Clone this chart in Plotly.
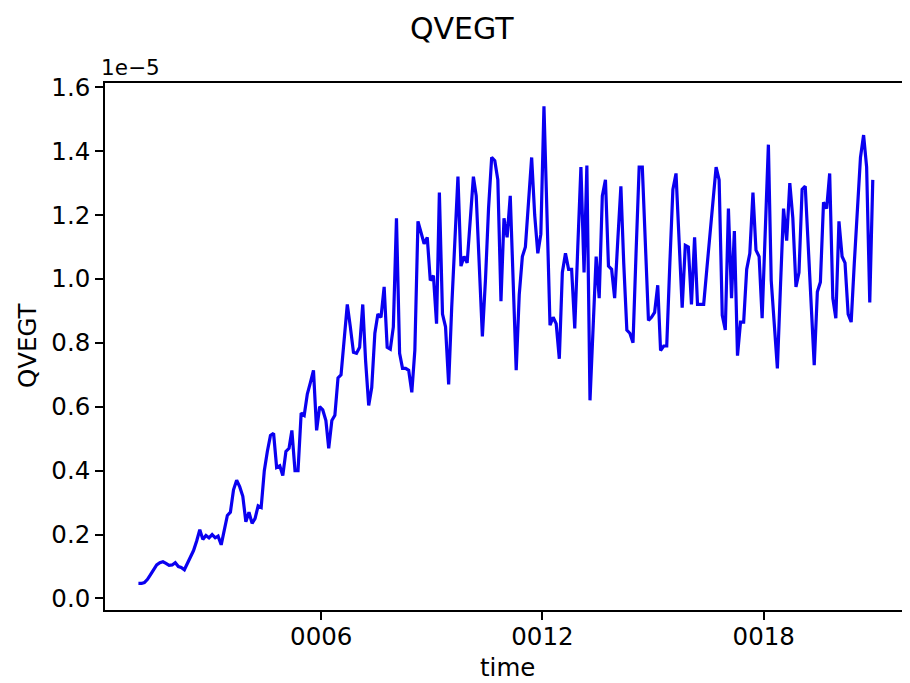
import plotly.graph_objects as go

# ---------------------------
# Data (QVEGT, in units of 1e-5), monthly from 0001-01 to 0020-12
# ---------------------------
START_YEAR = 1
N_YEARS = 20

qvegt_e5 = [
    0.047, 0.047, 0.050, 0.060, 0.075, 0.090, 0.105, 0.112, 0.115, 0.110,
    0.104, 0.105, 0.112, 0.100, 0.097, 0.090, 0.110, 0.130, 0.150, 0.180,
    0.215, 0.185, 0.197, 0.190, 0.200, 0.190, 0.195, 0.168, 0.210, 0.260,
    0.270, 0.340, 0.370, 0.350, 0.320, 0.240, 0.270, 0.235, 0.250, 0.290,
    0.285, 0.400, 0.460, 0.510, 0.517, 0.410, 0.415, 0.385, 0.460, 0.470,
    0.526, 0.400, 0.400, 0.580, 0.573, 0.640, 0.676, 0.714, 0.526, 0.600,
    0.590, 0.557, 0.470, 0.557, 0.573, 0.690, 0.700, 0.810, 0.920, 0.850,
    0.770, 0.767, 0.786, 0.920, 0.745, 0.604, 0.660, 0.830, 0.890, 0.880,
    0.975, 0.786, 0.780, 0.850, 1.190, 0.767, 0.720, 0.720, 0.714, 0.645,
    0.776, 1.180, 1.140, 1.110, 1.130, 0.995, 1.010, 0.860, 1.270, 0.890,
    0.850, 0.670, 0.910, 1.100, 1.320, 1.040, 1.070, 1.050, 1.180, 1.320,
    1.260, 1.050, 0.820, 1.000, 1.220, 1.380, 1.370, 1.310, 0.930, 1.190,
    1.130, 1.260, 0.990, 0.714, 0.950, 1.070, 1.100, 1.250, 1.380, 1.200,
    1.080, 1.140, 1.540, 1.190, 0.855, 0.880, 0.860, 0.750, 1.020, 1.080,
    1.030, 1.030, 0.845, 1.100, 1.350, 1.020, 1.355, 0.620, 0.850, 1.070,
    0.940, 1.260, 1.310, 1.040, 1.030, 0.940, 1.120, 1.290, 1.050, 0.840,
    0.830, 0.800, 1.080, 1.350, 1.350, 1.100, 0.870, 0.880, 0.895, 0.980,
    0.776, 0.790, 0.790, 1.050, 1.280, 1.330, 1.120, 0.910, 1.105, 1.100,
    0.920, 1.130, 0.920, 0.920, 0.920, 1.030, 1.130, 1.250, 1.350, 1.310,
    0.886, 0.840, 1.220, 0.940, 1.150, 0.760, 0.865, 0.865, 1.030, 1.080,
    1.270, 1.090, 1.070, 0.877, 1.150, 1.420, 0.995, 0.850, 0.720, 0.980,
    1.220, 1.120, 1.300, 1.190, 0.975, 1.020, 1.280, 1.290, 1.100, 0.920,
    0.730, 0.960, 0.990, 1.240, 1.220, 1.330, 0.940, 0.877, 1.180, 1.070,
    1.050, 0.890, 0.865, 1.050, 1.220, 1.380, 1.450, 1.350, 0.926, 1.310,
]

time = [f"{START_YEAR + y:04d}-{m:02d}-16"
        for y in range(N_YEARS) for m in range(1, 13)]

x_tick_vals = ["0006-01-01", "0012-01-01", "0018-01-01"]
x_tick_text = ["0006", "0012", "0018"]
y_tick_vals = [0.0, 0.2, 0.4, 0.6, 0.8, 1.0, 1.2, 1.4, 1.6]

# ---------------------------
# Style
# ---------------------------
FONT = "DejaVu Sans"
FS = 24.5
LINE_W = 1.6

fig = go.Figure(go.Scatter(
    x=time,
    y=qvegt_e5,
    mode="lines",
    line=dict(color="#0a00f0", width=3.2),
    showlegend=False,
))

axis_common = dict(
    showgrid=False,
    zeroline=False,
    showline=True,
    linecolor="black",
    linewidth=LINE_W,
    mirror=True,
    ticks="outside",
    ticklen=8,
    tickwidth=LINE_W,
    tickcolor="black",
    tickfont=dict(family=FONT, size=FS, color="black"),
)

# the page body adds 8px on the left and top, so the figure is 8px smaller
fig.update_layout(
    width=902,
    height=675,
    margin=dict(l=97, r=2, t=75, b=73),
    paper_bgcolor="white",
    plot_bgcolor="white",
    font=dict(family=FONT, size=FS, color="black"),
    title=dict(text="QVEGT", x=0.503, xanchor="center", y=0.970, yanchor="middle",
               font=dict(family=FONT, size=30, color="black")),
    xaxis=dict(
        **axis_common,
        type="date",
        range=["0000-02-20", "0021-11-10"],
        tickvals=x_tick_vals,
        ticktext=x_tick_text,
        ticklabelstandoff=-4,
    ),
    yaxis=dict(
        **axis_common,
        range=[-0.036, 1.613],
        tickvals=y_tick_vals,
        tickformat=".1f",
    ),
    annotations=[
        dict(text="1e\u22125", xref="paper", yref="paper", x=-0.008, y=1.030,
             xanchor="left", yanchor="middle", showarrow=False,
             font=dict(family=FONT, size=21.5, color="black")),
        dict(text="time", xref="paper", yref="paper", x=0.502, y=-0.110,
             xanchor="center", yanchor="middle", showarrow=False,
             font=dict(family=FONT, size=FS, color="black")),
        dict(text="QVEGT", xref="paper", yref="paper", x=-0.096, y=0.503,
             xanchor="center", yanchor="middle", textangle=-90, showarrow=False,
             font=dict(family=FONT, size=FS, color="black")),
    ],
)

fig.write_html("out.html")
